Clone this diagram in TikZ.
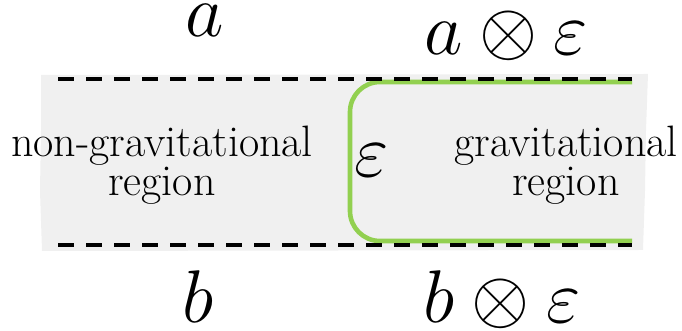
\documentclass[tikz,border=0pt]{standalone}
\usetikzlibrary{positioning}
\usepackage{amsmath}
\definecolor{regiongray}{RGB}{240,240,240}
\definecolor{bdygreen}{RGB}{146,208,80}

\begin{document}
\begin{tikzpicture}[x=0.5pt,y=0.5pt,
  mathlbl/.style={font=\fontsize{24.88}{24.88}\selectfont,inner sep=0pt,scale=1.5},
  regtext/.style={font=\fontsize{22}{18}\selectfont,align=center,inner sep=0pt}]
  \useasboundingbox (0,0) rectangle (682,331);
  % Background strip (rough edges)
  \fill[regiongray] (41,256) -- (648,257) -- (646,200) -- (645,140) -- (643,81)
    -- (42,80) -- (40,140) -- (41,200) -- cycle;
  % Boundary of the gravitational region
  \draw[bdygreen,line width=2.3pt,rounded corners=15pt]
    (632,249) -| (350,90) -- (632,90);
  % Dashed edges
  \draw[line width=2pt,dash pattern=on 8pt off 6pt] (58,252) -- (632,252);
  \draw[line width=2pt,dash pattern=on 8pt off 6pt] (58,86) -- (632,86);
  % Labels
  \node[mathlbl,anchor=base] (a) at (205,294) {$a$};
  \node[mathlbl,anchor=base] (aeps) at (506,276) {$a\otimes\varepsilon$};
  \node[mathlbl,anchor=base] (b) at (198,8) {$b$};
  \node[mathlbl,anchor=base] (beps) at (502,8) {$b\otimes\varepsilon$};
  \node[mathlbl] (eps) at (372,171) {$\varepsilon$};
  % Region names
  \node[regtext] (nongrav) at (162,166) {non-gravitational\\region};
  \node[regtext] (grav) at (566,166) {gravitational\\region};
\end{tikzpicture}
\end{document}
